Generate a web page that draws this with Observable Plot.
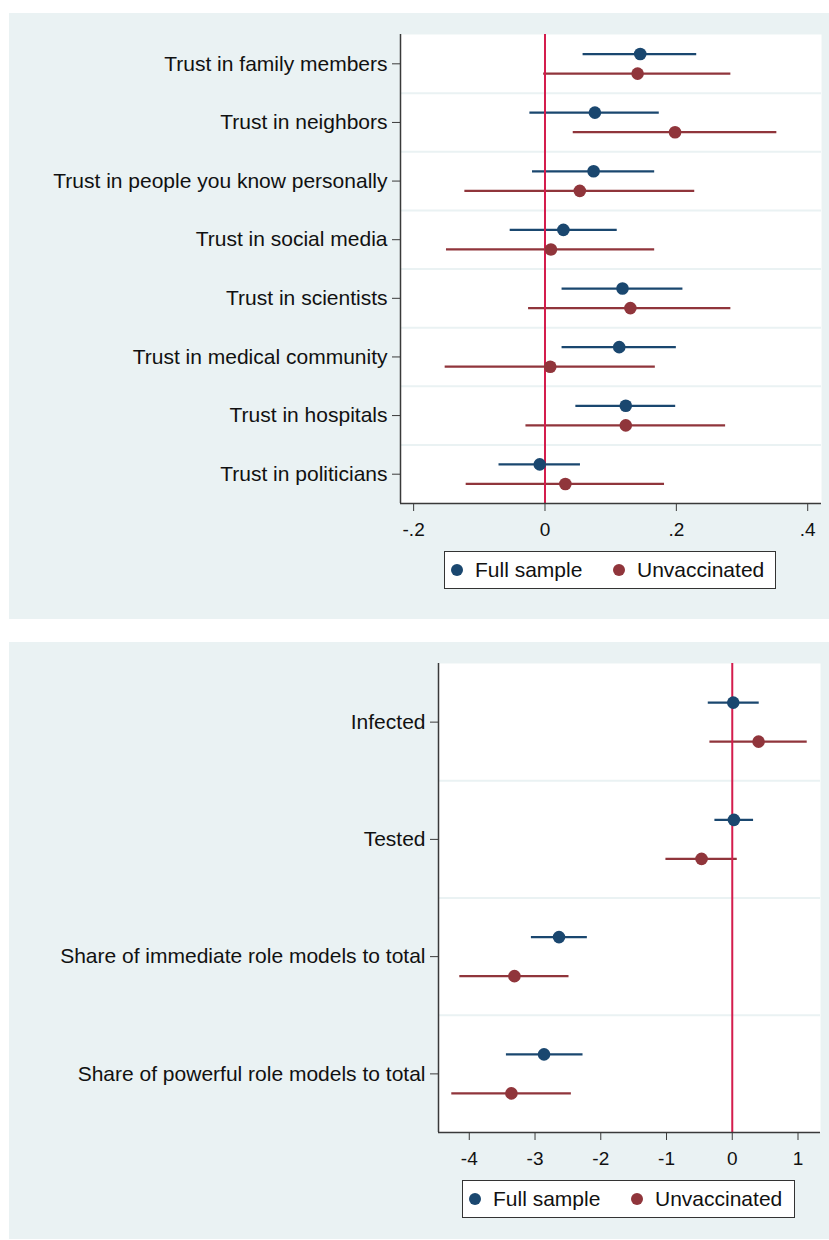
<!DOCTYPE html>
<html>
<head>
<meta charset="utf-8">
<script src="https://cdn.jsdelivr.net/npm/d3@7"></script>
<script src="https://cdn.jsdelivr.net/npm/@observablehq/plot@0.6"></script>
<style>
  html, body { margin: 0; padding: 0; background: #ffffff; }
  body { width: 829px; height: 1240px; position: relative; font-family: "Liberation Sans", Arial, sans-serif; }
  .panel { position: absolute; left: 9px; width: 820px; background: #eaf2f3; }
  .panel svg { display: block; }
  .legend { position: absolute; height: 36px; border: 1px solid #333; background: #fff; box-sizing: content-box; }
  .legend .dot { position: absolute; top: 12px; width: 12px; height: 12px; border-radius: 50%; }
  .legend .lab { position: absolute; top: 6px; font-size: 21px; line-height: 24px; color: #111; white-space: nowrap; }
</style>
</head>
<body>
<div id="p1" class="panel" style="top:13px;height:606px;"></div>
<div id="p2" class="panel" style="top:642px;height:597px;"></div>
<script>
// ---------- Data ----------
const seriesNames = ["Full sample", "Unvaccinated"];
const seriesColors = ["#1a476f", "#90353b"];

// Panel 1: trust measures
const cats1 = [
  "Trust in family members",
  "Trust in neighbors",
  "Trust in people you know personally",
  "Trust in social media",
  "Trust in scientists",
  "Trust in medical community",
  "Trust in hospitals",
  "Trust in politicians"
];
const full1Est = [0.145, 0.076, 0.074, 0.028, 0.118, 0.113, 0.123, -0.008];
const full1Lo  = [0.058, -0.023, -0.019, -0.053, 0.026, 0.026, 0.047, -0.070];
const full1Hi  = [0.231, 0.174, 0.167, 0.110, 0.210, 0.200, 0.199, 0.054];
const unv1Est  = [0.141, 0.198, 0.053, 0.009, 0.130, 0.008, 0.123, 0.031];
const unv1Lo   = [-0.002, 0.043, -0.122, -0.150, -0.025, -0.152, -0.029, -0.120];
const unv1Hi   = [0.283, 0.353, 0.228, 0.167, 0.283, 0.168, 0.275, 0.182];
const xTicks1 = [-0.2, 0, 0.2, 0.4];
const xDomain1 = [-0.22, 0.421];

// Panel 2: infection / role models
const cats2 = [
  "Infected",
  "Tested",
  "Share of immediate role models to total",
  "Share of powerful role models to total"
];
const full2Est = [0.015, 0.025, -2.635, -2.863];
const full2Lo  = [-0.365, -0.264, -3.055, -3.435];
const full2Hi  = [0.410, 0.324, -2.204, -2.270];
const unv2Est  = [0.400, -0.467, -3.313, -3.359];
const unv2Lo   = [-0.340, -1.009, -4.144, -4.266];
const unv2Hi   = [1.140, 0.076, -2.483, -2.447];
const xTicks2 = [-4, -3, -2, -1, 0, 1];
const xDomain2 = [-4.468, 1.342];

// ---------- Build ----------
function buildRows(cats, fe, fl, fh, ue, ul, uh) {
  const rows = [];
  cats.forEach((c, i) => {
    rows.push({cat: c, y: i - 1 / 6, est: fe[i], lo: fl[i], hi: fh[i], series: seriesNames[0]});
    rows.push({cat: c, y: i + 1 / 6, est: ue[i], lo: ul[i], hi: uh[i], series: seriesNames[1]});
  });
  return rows;
}

function makePlot({cats, rows, xDomain, xTicks, tickFormat, marginLeft, marginRight}) {
  const n = cats.length;
  const seps = d3.range(n - 1).map(i => i + 0.5);
  const colorOf = s => seriesColors[seriesNames.indexOf(s)];
  return Plot.plot({
    width: 820,
    height: 530,
    marginLeft,
    marginRight,
    marginTop: 21,
    marginBottom: 40,
    style: {background: "transparent", fontFamily: "'Liberation Sans', Arial, sans-serif", color: "#111", overflow: "visible"},
    x: {domain: xDomain},
    y: {domain: [-0.5, n - 0.5], reverse: true},
    marks: [
      Plot.frame({fill: "#ffffff", stroke: "none"}),
      Plot.ruleY(seps, {stroke: "#eaf2f3", strokeWidth: 2}),
      Plot.ruleY(rows, {y: "y", x1: "lo", x2: "hi", stroke: d => colorOf(d.series), strokeWidth: 2.2}),
      Plot.ruleX([0], {stroke: "#d41c4c", strokeWidth: 2}),
      Plot.dot(rows, {x: "est", y: "y", r: 6.3, fill: d => colorOf(d.series), stroke: "none"}),
      Plot.ruleX([xDomain[0]], {stroke: "#3a3a3a", strokeWidth: 1.5}),
      Plot.ruleY([n - 0.5], {stroke: "#3a3a3a", strokeWidth: 1.5}),
      Plot.axisY({
        ticks: d3.range(n), tickFormat: i => cats[i],
        tickSize: 8, tickPadding: 5, fontSize: 21, stroke: "#3a3a3a", fill: "#111", label: null
      }),
      Plot.axisX({
        ticks: xTicks, tickFormat,
        tickSize: 8, tickPadding: 11, fontSize: 19, stroke: "#3a3a3a", fill: "#111", label: null
      })
    ]
  });
}

function addLegend(panel, left, width) {
  const box = document.createElement("div");
  box.className = "legend";
  box.style.left = left + "px";
  box.style.top = "538px";
  box.style.width = width + "px";
  const pos = [[6, 30], [168, 192]];
  seriesNames.forEach((s, k) => {
    const dot = document.createElement("div");
    dot.className = "dot";
    dot.style.left = pos[k][0] + "px";
    dot.style.background = seriesColors[k];
    const lab = document.createElement("div");
    lab.className = "lab";
    lab.style.left = pos[k][1] + "px";
    lab.textContent = s;
    box.appendChild(dot);
    box.appendChild(lab);
  });
  panel.appendChild(box);
}

const p1 = document.getElementById("p1");
p1.appendChild(makePlot({
  cats: cats1,
  rows: buildRows(cats1, full1Est, full1Lo, full1Hi, unv1Est, unv1Lo, unv1Hi),
  xDomain: xDomain1, xTicks: xTicks1,
  tickFormat: d => d === 0 ? "0" : d.toFixed(1).replace("0.", "."),
  marginLeft: 391, marginRight: 8
}));
addLegend(p1, 435, 330);

const p2 = document.getElementById("p2");
p2.appendChild(makePlot({
  cats: cats2,
  rows: buildRows(cats2, full2Est, full2Lo, full2Hi, unv2Est, unv2Lo, unv2Hi),
  xDomain: xDomain2, xTicks: xTicks2,
  tickFormat: d => String(d),
  marginLeft: 429, marginRight: 9
}));
addLegend(p2, 453, 331);
</script>
</body>
</html>
